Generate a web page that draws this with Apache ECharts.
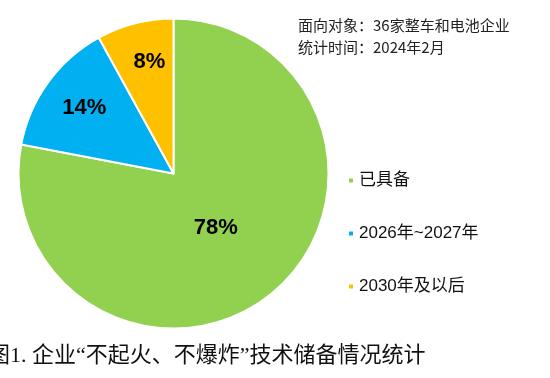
<!DOCTYPE html>
<html lang="zh-CN">
<head>
	<meta charset="UTF-8">
	<title>企业“不起火、不爆炸”技术储备情况统计</title>
	<style type="text/css">
		html, body { margin: 0; padding: 0; background: #fff; }
		#main { width: 550px; height: 378px; }
	</style>
</head>
<body>
	<div id="main"></div>
	<script type="text/javascript" src="https://cdn.jsdelivr.net/npm/echarts@6/dist/echarts.min.js"></script>
	<script type="text/javascript">
		var categories = ['已具备', '2026年~2027年', '2030年及以后'];
		var shares = [78, 14, 8];
		var colors = ['#92D050', '#00B0F0', '#FFC000'];
		var noteLines = ['面向对象：36家整车和电池企业', '统计时间：2024年2月'];
		var caption = '图1. 企业“不起火、不爆炸”技术储备情况统计';

		// nudge the inside labels toward where they sit in the original
		var labelShift = [[-9, -8], [-24, -18], [-4, -34]];

		var chart = echarts.init(document.getElementById('main'));

		var pieData = [];
		for (var i = 0; i < categories.length; i++) {
			pieData.push({
				name: categories[i],
				value: shares[i],
				itemStyle: { color: colors[i] }
			});
		}

		var option = {
			backgroundColor: '#ffffff',
			animation: false,
			legend: {
				orient: 'vertical',
				left: 347,
				top: 172,
				padding: 0,
				icon: 'rect',
				itemWidth: 6,
				itemHeight: 6,
				itemGap: 36,
				textStyle: {
					color: '#111',
					fontSize: 17,
					fontFamily: '"Liberation Sans", "Noto Sans CJK SC", sans-serif'
				},
				data: categories
			},
			graphic: [
				{
					type: 'text',
					left: 298,
					top: 14,
					style: {
						text: noteLines.join('\n'),
						fill: '#222',
						fontSize: 15,
						lineHeight: 22,
						fontFamily: '"Noto Sans CJK SC", sans-serif'
					}
				},
				{
					type: 'text',
					left: -12,
					top: 345,
					style: {
						text: caption,
						fill: '#111',
						fontSize: 22,
						fontFamily: '"Liberation Serif", "Noto Sans CJK SC", serif'
					}
				}
			],
			series: [
				{
					type: 'pie',
					center: [173.5, 173.5],
					radius: [0, 155],
					startAngle: 90,
					clockwise: true,
					avoidLabelOverlap: false,
					itemStyle: {
						borderColor: '#ffffff',
						borderWidth: 2
					},
					label: {
						show: true,
						position: 'inside',
						formatter: '{c}%',
						color: '#000',
						fontSize: 22,
						fontWeight: 'bold',
						fontFamily: '"Liberation Sans", Arial, sans-serif'
					},
					labelLine: { show: false },
					labelLayout: function (params) {
						var s = labelShift[params.dataIndex];
						return { dx: s[0], dy: s[1] };
					},
					emphasis: { disabled: true },
					data: pieData
				}
			]
		};

		chart.setOption(option);
	</script>
</body>
</html>
